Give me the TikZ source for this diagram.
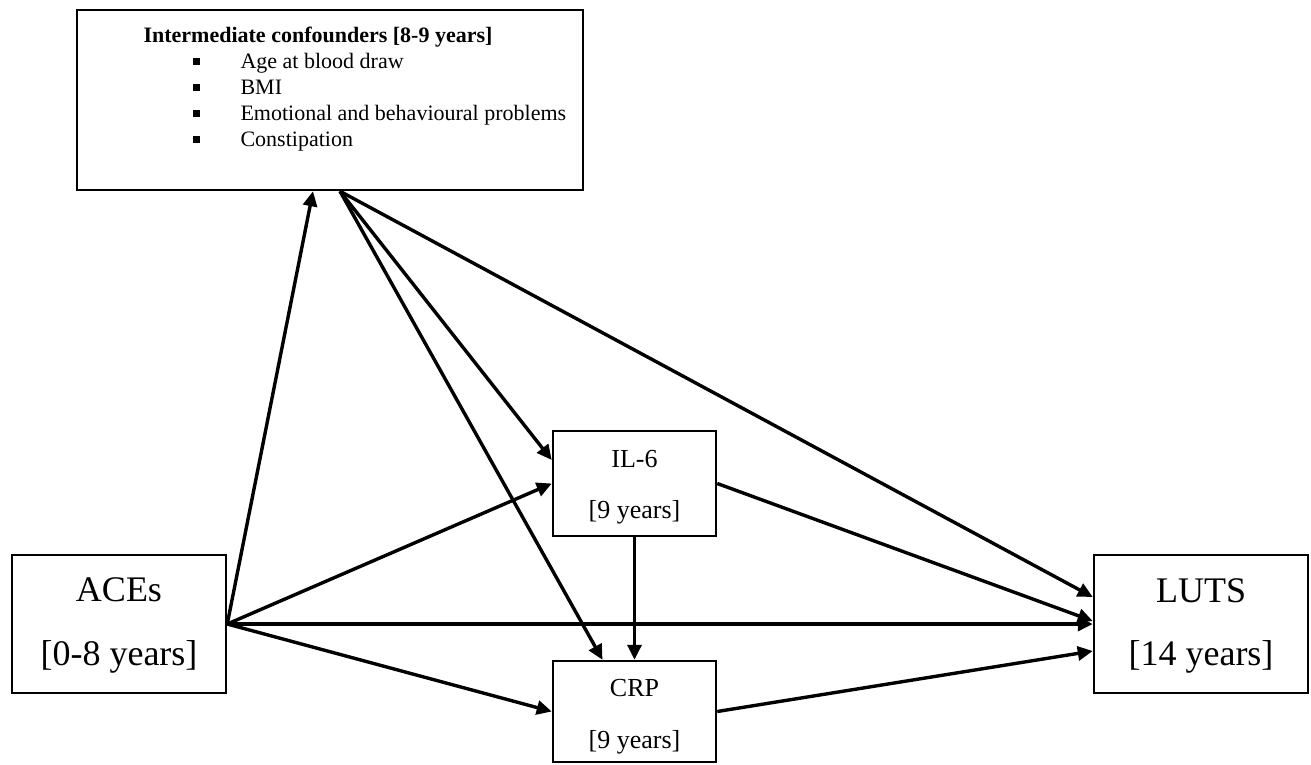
\documentclass[tikz,border=0pt]{standalone}
\usepackage{fontspec}
\setmainfont{Liberation Serif}
\usetikzlibrary{arrows.meta}
\tikzset{
  box/.style={draw, line width=2.5pt, inner sep=0pt, fill=white},
  arr/.style={line width=3.4pt, -{Triangle[length=15pt,width=14pt]}},
  big/.style={anchor=base, font=\fontsize{36}{40}\selectfont},
  small/.style={anchor=base, font=\fontsize{26}{30}\selectfont},
  conftxt/.style={anchor=base west, font=\fontsize{22}{26}\selectfont},
  bul/.style={fill=black, inner sep=0pt, minimum size=7pt}
}
\begin{document}
\begin{tikzpicture}[x=1pt, y=-1pt]
\useasboundingbox (0,0) rectangle (1311,764);
% boxes
\node[box, minimum width=506pt, minimum height=180pt] (conf) at (330,100) {};
\node[box, minimum width=214pt, minimum height=138pt] (aces) at (119,624) {};
\node[box, minimum width=214pt, minimum height=138pt] (luts) at (1201,624) {};
\node[box, minimum width=163pt, minimum height=105pt] (il6) at (634.5,483.5) {};
\node[box, minimum width=163pt, minimum height=101pt] (crp) at (634.5,711.5) {};
% texts
\node[anchor=base, font=\fontsize{22}{26}\selectfont\bfseries] (title) at (318,42) {Intermediate confounders [8-9 years]};
\node[bul] (b1) at (196,61.5) {};
\node[bul] (b2) at (196,87.5) {};
\node[bul] (b3) at (196,113.5) {};
\node[bul] (b4) at (196,139.5) {};
\node[conftxt] (i1) at (237,68) {Age at blood draw};
\node[conftxt] (i2) at (237,94) {BMI};
\node[conftxt] (i3) at (237,120) {Emotional and behavioural problems};
\node[conftxt] (i4) at (237,146) {Constipation};
\node[big] (acesA) at (119,601) {ACEs};
\node[big] (acesB) at (119,665) {[0-8 years]};
\node[big] (lutsA) at (1201,602) {LUTS};
\node[big] (lutsB) at (1201,665) {[14 years]};
\node[small] (il6A) at (634.5,467) {IL-6};
\node[small] (il6B) at (634.5,518) {[9 years]};
\node[small] (crpA) at (634.5,696) {CRP};
\node[small] (crpB) at (634.5,748) {[9 years]};
% connectors
\coordinate (co) at ([xshift=10pt]conf.south);
\draw[arr] (aces.east) -- ([xshift=-17pt]conf.south);
\draw[arr] (co) -- ([yshift=23.5pt]il6.west);
\draw[arr] (co) -- ([xshift=-32pt]crp.north);
\draw[arr] (co) -- ([yshift=27pt]luts.west);
\draw[arr] (aces.east) -- (il6.west);
\draw[arr] (aces.east) -- (luts.west);
\draw[arr] (aces.east) -- (crp.west);
\draw[arr] (il6.east) -- ([yshift=3pt]luts.west);
\draw[arr] (il6.south) -- (crp.north);
\draw[arr] (crp.east) -- ([yshift=-27pt]luts.west);
\end{tikzpicture}
\end{document}
